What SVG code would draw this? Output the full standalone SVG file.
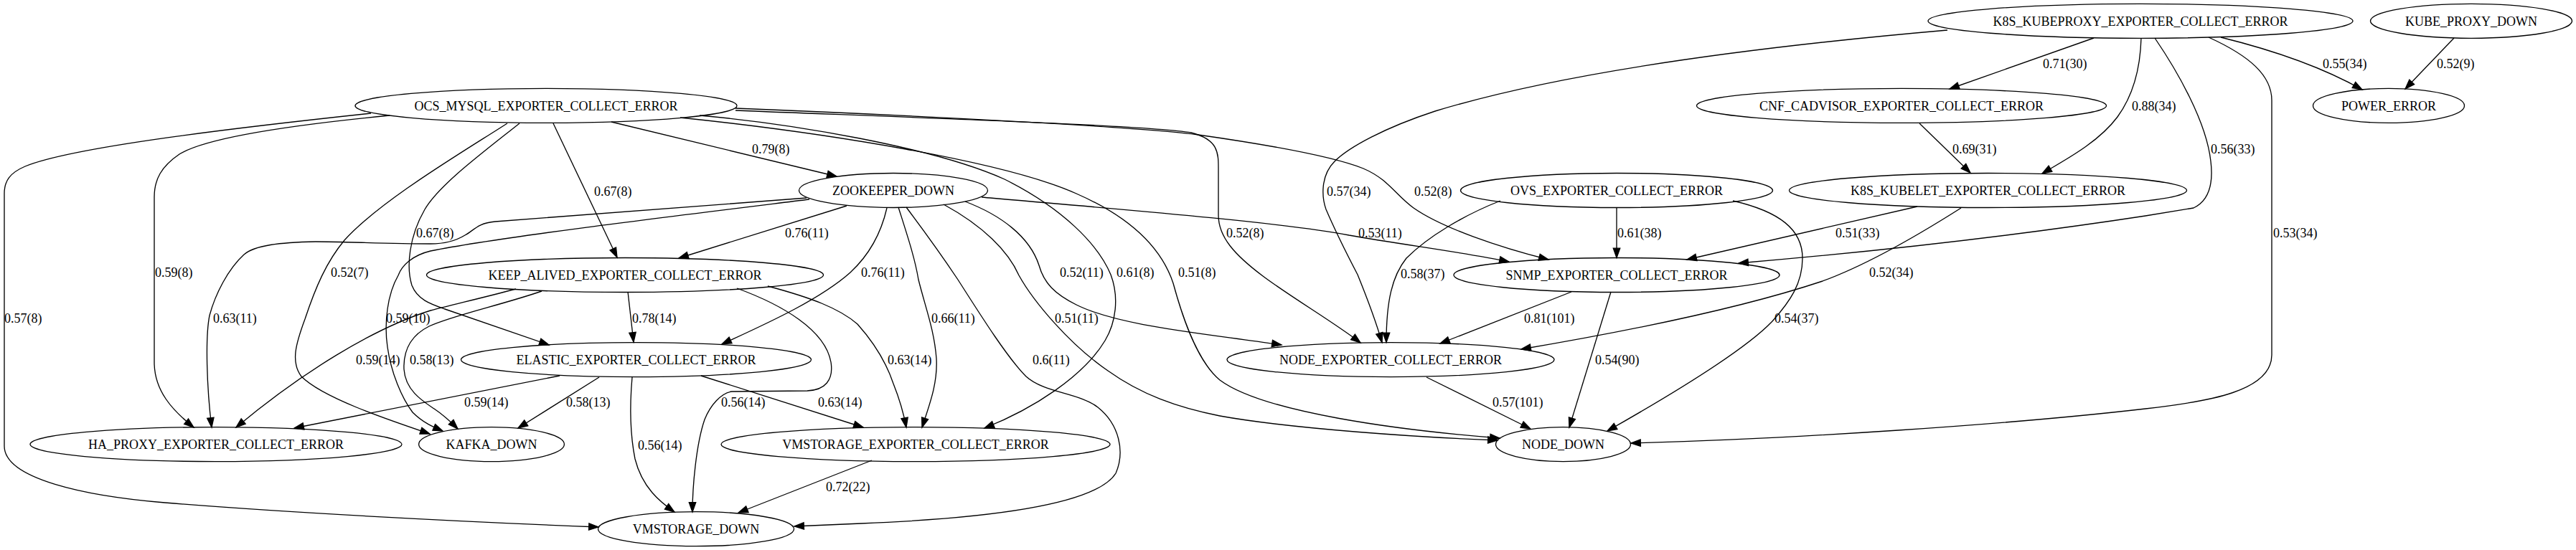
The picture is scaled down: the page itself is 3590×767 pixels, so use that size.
<svg xmlns="http://www.w3.org/2000/svg" width="3590" height="767" viewBox="0 0 3590 767">
<style>
.n ellipse{fill:none;stroke:#000;stroke-width:1.33}
text{font-family:"Liberation Serif","Times New Roman",serif;font-size:18px;fill:#000}
.n text{text-anchor:middle}
.e path{fill:none;stroke:#000;stroke-width:1.33;marker-end:url(#ah)}
</style>
<defs>
<marker id="ah" markerUnits="userSpaceOnUse" markerWidth="16" markerHeight="12" refX="13.3" refY="4.7" orient="auto" overflow="visible"><path d="M0,0L13.3,4.7L0,9.4z" fill="#000" stroke="#000" stroke-width="1.33"/></marker>
</defs>
<rect width="3590" height="767" fill="#fff"/>
<g id="edges">
<g class="e"><path d="M517,158 C330,178 100,205 35,232 C14,241 6,252 6,270 L6,622 C6,668 120,692 230,701 C400,715 650,728 834,735"/><text x="6" y="450">0.57(8)</text></g>
<g class="e"><path d="M543,161 C420,173 290,190 250,215 C225,232 215,250 215,275 L215,505 C215,545 240,572 270,596"/><text x="216" y="386">0.59(8)</text></g>
<g class="e"><path d="M707,172 C640,215 530,280 480,335 C455,365 440,400 425,445 C412,480 405,505 420,525 C450,555 540,585 599,605"/><text x="461" y="386">0.52(7)</text></g>
<g class="e"><path d="M724,172 C670,215 612,258 592,292 C570,330 566,372 574,398 C582,418 600,424 620,431 L765,481"/><text x="580" y="331">0.67(8)</text></g>
<g class="e"><path d="M771,172 L860,359"/><text x="828" y="273">0.67(8)</text></g>
<g class="e"><path d="M852,170 L1166,246"/><text x="1048" y="214">0.79(8)</text></g>
<g class="e"><path d="M975,161 C1100,172 1300,205 1400,250 C1480,290 1530,340 1548,383 C1560,415 1555,450 1540,475 C1510,525 1440,570 1372,597"/><text x="1556" y="386">0.61(8)</text></g>
<g class="e"><path d="M948,164 C1150,185 1400,225 1500,270 C1580,305 1620,350 1635,395 C1650,450 1670,505 1700,530 C1760,575 1950,600 2090,611"/><text x="1642" y="386">0.51(8)</text></g>
<g class="e"><path d="M1025,154 C1300,165 1600,175 1660,185 C1700,195 1698,215 1698,240 L1698,300 C1698,330 1720,355 1760,385 C1800,415 1860,450 1896,478"/><text x="1709" y="331">0.52(8)</text></g>
<g class="e"><path d="M1025,151 C1300,162 1600,178 1670,188 C1740,198 1850,215 1900,235 C1935,250 1945,272 1970,290 C2010,318 2090,345 2158,362"/><text x="1971" y="273">0.52(8)</text></g>
<g class="e"><path d="M1124,276 L690,309 C665,311 660,322 648,328 C635,336 620,340 600,340 C540,340 480,337 440,337 C390,338 355,342 340,355 C318,375 300,410 292,440 C286,470 288,540 295,596"/><text x="297" y="450">0.63(11)</text></g>
<g class="e"><path d="M1128,278 C950,300 700,330 600,350 C575,356 560,370 555,384 C540,410 535,450 540,484 C545,520 560,555 575,575 C590,590 605,596 617,601"/><text x="538" y="450">0.59(10)</text></g>
<g class="e"><path d="M1180,287 L946,360"/><text x="1094" y="331">0.76(11)</text></g>
<g class="e"><path d="M1236,290 C1228,325 1212,355 1185,380 C1140,420 1060,455 1006,480"/><text x="1200" y="386">0.76(11)</text></g>
<g class="e"><path d="M1252,289 C1265,330 1275,360 1280,390 C1290,430 1302,460 1305,500 C1307,535 1295,565 1285,596"/><text x="1298" y="450">0.66(11)</text></g>
<g class="e"><path d="M1263,289 C1290,325 1315,360 1335,390 C1370,445 1405,500 1430,525 C1455,548 1505,548 1530,568 C1560,592 1568,630 1555,660 C1530,700 1400,722 1200,730 L1107,734"/><text x="1439" y="508">0.6(11)</text></g>
<g class="e"><path d="M1315,285 C1370,315 1405,350 1420,384 C1440,420 1490,480 1544,517 C1590,550 1640,568 1700,580 C1800,598 1980,610 2087,614"/><text x="1470" y="450">0.51(11)</text></g>
<g class="e"><path d="M1345,281 C1395,300 1435,330 1448,370 C1455,395 1470,410 1500,425 C1560,455 1680,465 1786,481"/><text x="1477" y="386">0.52(11)</text></g>
<g class="e"><path d="M1368,275 C1600,295 1800,312 1880,328 C1960,342 2040,352 2103,365"/><text x="1893" y="331">0.53(11)</text></g>
<g class="e"><path d="M719,403 C670,416 630,425 600,433 C520,458 420,520 329,596"/><text x="496" y="508">0.59(14)</text></g>
<g class="e"><path d="M755,406 C700,425 630,440 598,455 C572,468 562,490 563,515 C565,545 590,560 605,570 C620,580 630,590 638,598"/><text x="571" y="508">0.58(13)</text></g>
<g class="e"><path d="M875,407 L883,477"/><text x="881" y="450">0.78(14)</text></g>
<g class="e"><path d="M1027,402 C1090,425 1150,460 1158,505 C1162,530 1150,544 1125,545 L1020,546 C1005,548 990,565 982,585 C970,620 965,680 965,714"/><text x="1005" y="567">0.56(14)</text></g>
<g class="e"><path d="M1070,399 C1130,415 1170,430 1195,452 C1220,480 1235,505 1245,535 C1255,560 1260,580 1263,596"/><text x="1237" y="508">0.63(14)</text></g>
<g class="e"><path d="M780,524 C650,550 520,575 410,597"/><text x="647" y="567">0.59(14)</text></g>
<g class="e"><path d="M835,526 L722,597"/><text x="789" y="567">0.58(13)</text></g>
<g class="e"><path d="M881,526 C878,560 877,600 885,640 C895,680 920,700 940,714"/><text x="889" y="627">0.56(14)</text></g>
<g class="e"><path d="M977,524 L1203,596"/><text x="1140" y="567">0.63(14)</text></g>
<g class="e"><path d="M1215,642 L1029,715"/><text x="1151" y="685">0.72(22)</text></g>
<g class="e"><path d="M1988,526 L2133,598"/><text x="2080" y="567">0.57(101)</text></g>
<g class="e"><path d="M2190,407 L2007,479"/><text x="2124" y="450">0.81(101)</text></g>
<g class="e"><path d="M2245,407 L2187,596"/><text x="2223" y="508">0.54(90)</text></g>
<g class="e"><path d="M2253,290 L2253,359.5"/><text x="2254" y="331">0.61(38)</text></g>
<g class="e"><path d="M2091,280 C2040,300 1990,330 1960,360 C1940,385 1932,420 1932,477.5"/><text x="1952" y="388">0.58(37)</text></g>
<g class="e"><path d="M2415,280 C2480,295 2512,320 2512,360 C2512,395 2495,420 2470,448 C2430,490 2330,550 2240,601"/><text x="2473" y="450">0.54(37)</text></g>
<g class="e"><path d="M2672,288 L2351,362"/><text x="2558" y="331">0.51(33)</text></g>
<g class="e"><path d="M2733,290 C2670,330 2600,370 2540,392 C2420,432 2250,465 2120,487"/><text x="2605" y="386">0.52(34)</text></g>
<g class="e"><path d="M2675,172 L2746,241"/><text x="2721" y="214">0.69(31)</text></g>
<g class="e"><path d="M2918,53 L2717,124"/><text x="2847" y="95">0.71(30)</text></g>
<g class="e"><path d="M2984,53 C2983,90 2975,130 2951,163 C2925,198 2880,222 2846,242"/><text x="2971" y="154">0.88(34)</text></g>
<g class="e"><path d="M3003,53 C3035,100 3075,170 3081,225 C3085,258 3078,280 3057,290 L2990,301 C2800,330 2600,352 2423,367"/><text x="3081" y="214">0.56(33)</text></g>
<g class="e"><path d="M3095,52 C3160,68 3230,90 3292,125"/><text x="3237" y="95">0.55(34)</text></g>
<g class="e"><path d="M3420,53 L3352,124"/><text x="3396" y="95">0.52(9)</text></g>
<g class="e"><path d="M3078,52 C3135,78 3166,105 3166,140 L3166,495 C3166,545 3080,560 2990,570 C2800,592 2500,612 2273,618"/><text x="3168" y="331">0.53(34)</text></g>
<g class="e"><path d="M2714,42 C2450,65 2180,100 2000,155 C1930,178 1880,205 1860,225 C1840,245 1842,275 1848,292 C1860,320 1880,360 1892,383 C1905,415 1918,450 1926,477.5"/><text x="1849" y="273">0.57(34)</text></g>
</g>
<g id="n_k8s_kubeproxy" class="n"><ellipse cx="2983" cy="29.3" rx="296" ry="24"/><text x="2983" y="35.8">K8S_KUBEPROXY_EXPORTER_COLLECT_ERROR</text></g>
<g id="n_kube_proxy_down" class="n"><ellipse cx="3444" cy="29.3" rx="140.5" ry="24"/><text x="3444" y="35.8">KUBE_PROXY_DOWN</text></g>
<g id="n_ocs_mysql" class="n"><ellipse cx="761" cy="147.4" rx="266" ry="24"/><text x="761" y="153.9">OCS_MYSQL_EXPORTER_COLLECT_ERROR</text></g>
<g id="n_cnf_cadvisor" class="n"><ellipse cx="2650" cy="147.4" rx="285.5" ry="24"/><text x="2650" y="153.9">CNF_CADVISOR_EXPORTER_COLLECT_ERROR</text></g>
<g id="n_power_error" class="n"><ellipse cx="3329" cy="147.4" rx="105.5" ry="24"/><text x="3329" y="153.9">POWER_ERROR</text></g>
<g id="n_zookeeper" class="n"><ellipse cx="1245" cy="265.5" rx="131.5" ry="24"/><text x="1245" y="272">ZOOKEEPER_DOWN</text></g>
<g id="n_ovs" class="n"><ellipse cx="2253" cy="265.5" rx="217.5" ry="24"/><text x="2253" y="272">OVS_EXPORTER_COLLECT_ERROR</text></g>
<g id="n_k8s_kubelet" class="n"><ellipse cx="2770.5" cy="265.5" rx="277" ry="24"/><text x="2770.5" y="272">K8S_KUBELET_EXPORTER_COLLECT_ERROR</text></g>
<g id="n_keep_alived" class="n"><ellipse cx="871" cy="383.5" rx="276.5" ry="24"/><text x="871" y="390">KEEP_ALIVED_EXPORTER_COLLECT_ERROR</text></g>
<g id="n_snmp" class="n"><ellipse cx="2253" cy="383.5" rx="227" ry="24"/><text x="2253" y="390">SNMP_EXPORTER_COLLECT_ERROR</text></g>
<g id="n_elastic" class="n"><ellipse cx="886.5" cy="501.6" rx="244" ry="24"/><text x="886.5" y="508.1">ELASTIC_EXPORTER_COLLECT_ERROR</text></g>
<g id="n_node_exporter" class="n"><ellipse cx="1938" cy="501.6" rx="228" ry="24"/><text x="1938" y="508.1">NODE_EXPORTER_COLLECT_ERROR</text></g>
<g id="n_ha_proxy" class="n"><ellipse cx="301" cy="619.6" rx="259" ry="24"/><text x="301" y="626.1">HA_PROXY_EXPORTER_COLLECT_ERROR</text></g>
<g id="n_kafka" class="n"><ellipse cx="685" cy="619.6" rx="101.4" ry="24"/><text x="685" y="626.1">KAFKA_DOWN</text></g>
<g id="n_vmstorage_exporter" class="n"><ellipse cx="1276" cy="619.6" rx="271" ry="24"/><text x="1276" y="626.1">VMSTORAGE_EXPORTER_COLLECT_ERROR</text></g>
<g id="n_node_down" class="n"><ellipse cx="2178.5" cy="619.6" rx="94" ry="24"/><text x="2178.5" y="626.1">NODE_DOWN</text></g>
<g id="n_vmstorage_down" class="n"><ellipse cx="970" cy="737.7" rx="136.5" ry="24"/><text x="970" y="744.2">VMSTORAGE_DOWN</text></g>
</svg>
